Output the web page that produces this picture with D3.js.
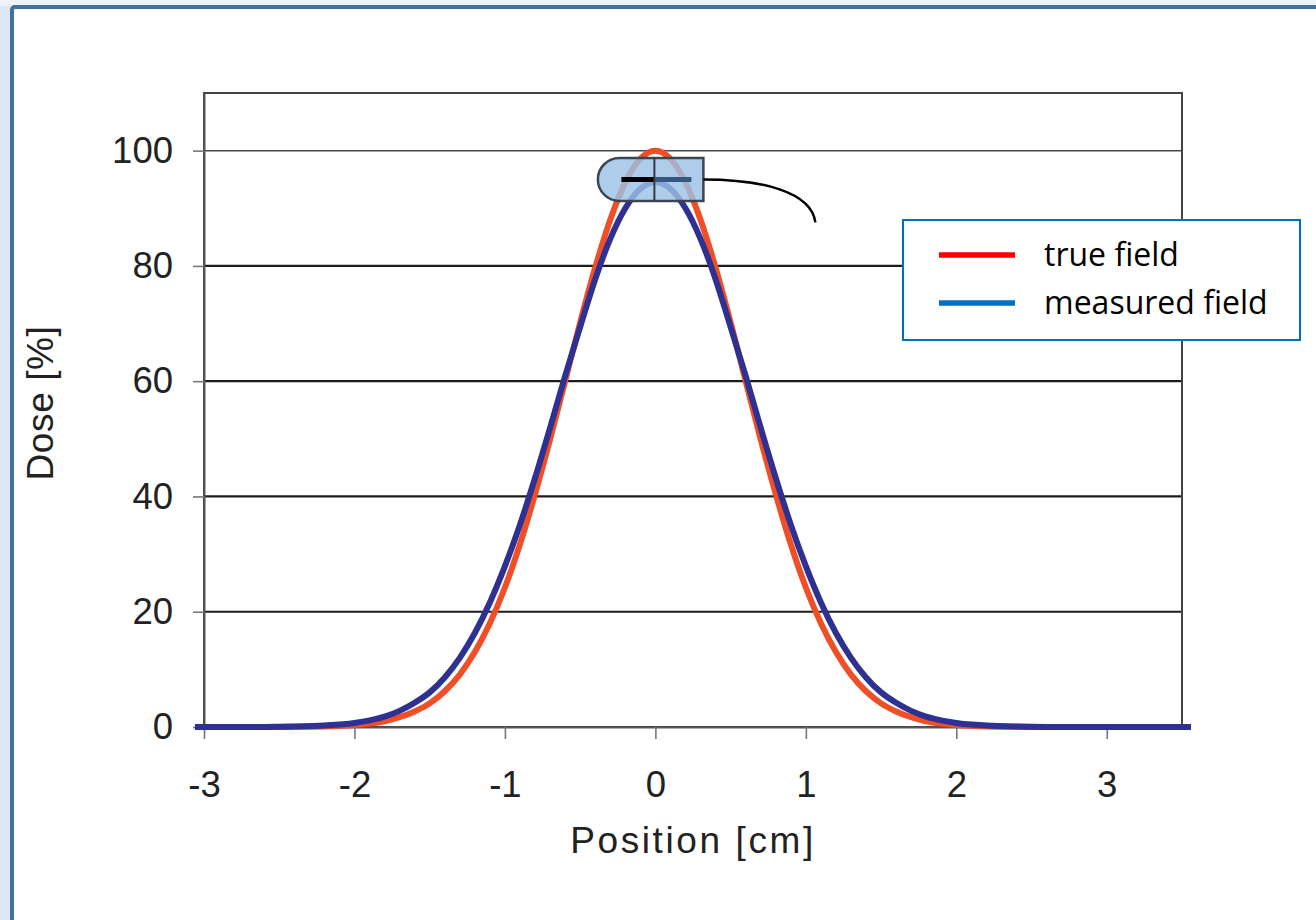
<!DOCTYPE html>
<html>
<head>
<meta charset="utf-8">
<script src="https://cdn.jsdelivr.net/npm/d3@7"></script>
<style>
  html, body { margin: 0; padding: 0; background: #dce8f5; }
  svg { display: block; }
</style>
</head>
<body>
<svg id="chart" width="1316" height="920"></svg>
<script>
// Lateral dose profiles across a small field
const positions = [-3.06, -3.0, -2.8, -2.6, -2.4, -2.2, -2.0,
  -1.9, -1.8, -1.7, -1.6, -1.5, -1.4, -1.3, -1.2, -1.1, -1.0,
  -0.9, -0.8, -0.7, -0.6, -0.5, -0.4, -0.3, -0.2, -0.1, 0,
  0.1, 0.2, 0.3, 0.4, 0.5, 0.6, 0.7, 0.8, 0.9, 1.0,
  1.1, 1.2, 1.3, 1.4, 1.5, 1.6, 1.7, 1.8, 1.9,
  2.0, 2.2, 2.4, 2.6, 2.8, 3.0, 3.2, 3.4, 3.56];

const trueField = [0, 0, 0, 0.01, 0.03, 0.1, 0.35,
  0.6, 1.0, 1.7, 2.7, 4.1, 6.2, 9.1, 13.0, 18.0, 24.2,
  31.7, 40.4, 49.9, 60.0, 70.2, 79.7, 88.0, 94.5, 98.6, 100,
  98.6, 94.5, 88.0, 79.7, 70.2, 60.0, 49.9, 40.4, 31.7, 24.2,
  18.0, 13.0, 9.1, 6.2, 4.1, 2.7, 1.7, 1.0, 0.6,
  0.35, 0.1, 0.03, 0.01, 0, 0, 0, 0, 0];

const measuredField = [0, 0, 0.01, 0.02, 0.08, 0.26, 0.7,
  1.15, 1.8, 2.8, 4.2, 6.0, 8.6, 12.0, 16.3, 21.6, 27.9,
  35.1, 43.2, 51.9, 60.9, 69.4, 77.7, 84.7, 90.0, 93.4, 94.5,
  93.4, 90.0, 84.7, 77.7, 69.4, 60.9, 51.9, 43.2, 35.1, 27.9,
  21.6, 16.3, 12.0, 8.6, 6.0, 4.2, 2.8, 1.8, 1.15,
  0.7, 0.26, 0.08, 0.02, 0.01, 0, 0, 0, 0];

const xTicks = [-3, -2, -1, 0, 1, 2, 3];
const yTicks = [0, 20, 40, 60, 80, 100];
const gridLevels = [20, 40, 60, 80, 100];

const seriesNames = ["true field", "measured field"];
const seriesLegendColors = ["#ff0000", "#0070c0"];

// detector marker: centre in data units
const detector = { x: 0, y: 95 };

const svg = d3.select("#chart");
const W = 1316, H = 920;

// page backdrop and framed panel
svg.append("rect").attr("x", 0).attr("y", 0).attr("width", W).attr("height", 6).attr("fill", "#eef3fa");
svg.append("rect").attr("x", 10).attr("y", 5).attr("width", W - 10).attr("height", H - 5).attr("fill", "#ffffff");
svg.append("path")
  .attr("d", `M12,${H} L12,10 Q12,7 15,7 L${W},7`)
  .attr("fill", "none").attr("stroke", "#41719c").attr("stroke-width", 4);

const plot = { left: 204, right: 1182, top: 93, bottom: 727 };

const x = d3.scaleLinear().domain([-3, 3.5]).range([plot.left, plot.right]);
const y = d3.scaleLinear().domain([0, 110]).range([plot.bottom, plot.top]);

// horizontal gridlines
svg.append("g").selectAll("line").data(gridLevels).join("line")
  .attr("x1", plot.left).attr("x2", plot.right)
  .attr("y1", d => y(d)).attr("y2", d => y(d))
  .attr("stroke", d => d === 100 ? "#4a4a4a" : "#1c1c1c")
  .attr("stroke-width", d => d === 100 ? 1.5 : 2.2);

// frame
svg.append("rect")
  .attr("x", plot.left).attr("y", plot.top)
  .attr("width", plot.right - plot.left).attr("height", plot.bottom - plot.top)
  .attr("fill", "none").attr("stroke", "#444").attr("stroke-width", 2);

// axes (plain hyphen for negatives)
const fontAxis = "'Liberation Sans', Arial, sans-serif";
const fmt = d => String(d);
const yAxis = d3.axisLeft(y).tickValues(yTicks).tickSize(11).tickSizeOuter(0).tickPadding(20).tickFormat(fmt);
const gy = svg.append("g").attr("transform", `translate(${plot.left},0)`).call(yAxis);
const xAxis = d3.axisBottom(x).tickValues(xTicks).tickSize(12).tickSizeOuter(0).tickFormat(fmt);
const gx = svg.append("g").attr("transform", `translate(0,${plot.bottom})`).call(xAxis);
[gx, gy].forEach(g => {
  g.select(".domain").attr("stroke", "#555").attr("stroke-width", 2);
  g.selectAll(".tick line").attr("stroke", "#777").attr("stroke-width", 1.6);
  g.selectAll(".tick text").attr("fill", "#222").attr("font-family", fontAxis).attr("font-size", 36.5);
});
gx.selectAll(".tick text").attr("dy", null).attr("y", 70);

// axis titles
svg.append("text")
  .attr("transform", "translate(53,403) rotate(-90)")
  .attr("text-anchor", "middle")
  .attr("font-family", fontAxis).attr("font-size", 37).attr("letter-spacing", 0.6)
  .attr("fill", "#222").text("Dose [%]");
svg.append("text")
  .attr("x", 693).attr("y", 853)
  .attr("text-anchor", "middle")
  .attr("font-family", fontAxis).attr("font-size", 37).attr("letter-spacing", 2.6)
  .attr("fill", "#222").text("Position [cm]");

// profiles
const line = d3.line().x(d => x(d[0])).y(d => y(d[1])).curve(d3.curveMonotoneX);
svg.append("path")
  .datum(positions.map((p, i) => [p, trueField[i]]))
  .attr("d", line).attr("fill", "none")
  .attr("stroke", "#f04e26").attr("stroke-width", 6).attr("stroke-linejoin", "round");
svg.append("path")
  .datum(positions.map((p, i) => [p, measuredField[i]]))
  .attr("d", line).attr("fill", "none")
  .attr("stroke", "#2e3192").attr("stroke-width", 6).attr("stroke-linejoin", "round");

// detector sketch at the peak
const cx = x(detector.x), cy = y(detector.y);
const det = svg.append("g").attr("transform", `translate(${cx},${cy})`);
const r = 21.5, left = -36, right = 48;
det.append("path")
  .attr("d", `M${left},${-r} L${right},${-r} L${right},${r} L${left},${r} A${r},${r} 0 0 1 ${left},${-r} Z`)
  .attr("fill", "#9cc2e5").attr("fill-opacity", 0.82)
  .attr("stroke", "#3c4650").attr("stroke-width", 2.5);
det.append("line").attr("x1", -34).attr("x2", 0).attr("y1", 0).attr("y2", 0)
  .attr("stroke", "#000").attr("stroke-width", 5);
det.append("line").attr("x1", 0).attr("x2", 36).attr("y1", 0).attr("y2", 0)
  .attr("stroke", "#34587f").attr("stroke-width", 5);
det.append("line").attr("x1", -1).attr("x2", -1).attr("y1", -r).attr("y2", r)
  .attr("stroke", "#2f3a44").attr("stroke-width", 2);
det.append("path")
  .attr("d", `M${right},0 C${right + 58},0 ${right + 108},12 ${right + 112},43`)
  .attr("fill", "none").attr("stroke", "#000").attr("stroke-width", 2.5);

// legend
const lg = svg.append("g");
lg.append("rect").attr("x", 903).attr("y", 220).attr("width", 397).attr("height", 120)
  .attr("fill", "#fff").attr("stroke", "#0070c0").attr("stroke-width", 2);
seriesNames.forEach((name, i) => {
  const yy = 255 + i * 48;
  lg.append("line").attr("x1", 939).attr("x2", 1015).attr("y1", yy).attr("y2", yy)
    .attr("stroke", seriesLegendColors[i]).attr("stroke-width", 5.5);
  lg.append("text").attr("x", 1044).attr("y", yy + 11)
    .attr("font-family", "'Open Sans', 'Noto Sans', sans-serif").attr("font-size", 32)
    .attr("fill", "#000").text(name);
});
</script>
</body>
</html>
